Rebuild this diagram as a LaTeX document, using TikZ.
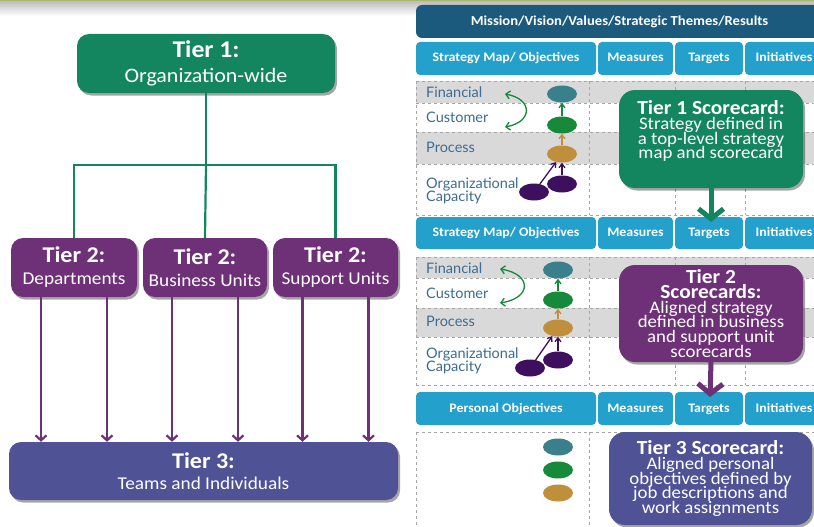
\documentclass[tikz,border=0pt]{standalone}
\usepackage{fontspec}
\setmainfont[FakeStretch=1.07]{Carlito}
\newfontfamily\lblfont{Lato}
\usetikzlibrary{arrows.meta,shapes.geometric,shadows,calc}
\definecolor{tgreen}{HTML}{138660}
\definecolor{tpurple}{HTML}{6E3177}
\definecolor{tblue}{HTML}{4F5396}
\definecolor{hdark}{HTML}{1C5A7D}
\definecolor{hlight}{HTML}{24A0CD}
\definecolor{rowgray}{HTML}{D9D9D9}
\definecolor{gridgray}{HTML}{A6A6A6}
\definecolor{lbltext}{HTML}{3D6C92}
\definecolor{eteal}{HTML}{3A808C}
\definecolor{egreen}{HTML}{168A3A}
\definecolor{egold}{HTML}{C08F3B}
\definecolor{epurple}{HTML}{3E0F5E}
\definecolor{topline}{HTML}{A9B86A}
\newcommand\cttl{\bfseries\fontsize{20}{14.8}\selectfont}
\newcommand\cbdy{\fontsize{17.6}{14.8}\selectfont\lineskiplimit=-50pt\relax}
\newcommand\lblf{\lblfont\fontsize{14.5}{13}\selectfont\lineskiplimit=-50pt\relax}
\newcommand\oneT{\fontsize{20.5}{25}\selectfont\lineskiplimit=-50pt\relax}
\newcommand\twoT{\fontsize{18}{22}\selectfont\lineskiplimit=-50pt\relax}
\newcommand\thrT{\fontsize{18}{21}\selectfont\lineskiplimit=-50pt\relax}
\begin{document}
\begin{tikzpicture}[x=1pt,y=-1pt,
  tbox/.style={rounded corners=12pt, text=white, align=center, inner sep=0pt,
    drop shadow={shadow xshift=2pt,shadow yshift=-2.5pt,opacity=0.35,fill=black}},
  callout/.style={rounded corners=16pt, text=white, align=center, inner sep=0pt, font=\cbdy,
    drop shadow={shadow xshift=2pt,shadow yshift=-2.5pt,opacity=0.35,fill=black}},
  hdr/.style={fill=hlight, rounded corners=4pt, text=white, inner sep=0pt,
    text height=9.5pt, text depth=2.5pt, font=\bfseries\fontsize{13}{15}\selectfont},
  lbl/.style={anchor=west, text=lbltext, inner sep=0pt, align=left, font=\lblf},
  ell/.style={ellipse, minimum width=30pt, minimum height=17pt, inner sep=0pt},
  conn/.style={draw=tgreen, line width=2.2pt},
  parrow/.style={draw=tpurple, line width=2.2pt, -{Straight Barb[length=5pt,width=11pt]}},
  small/.style={line width=1.3pt, -{Straight Barb[length=4pt,width=6pt]}},
  bigarrow/.style={line width=5pt, -{Straight Barb[length=10pt,width=25pt]}},
  grid/.style={draw=gridgray, dashed, line width=0.6pt}
]
\useasboundingbox (0,0) rectangle (814,527);
\clip (0,0) rectangle (814,527);
% top strip
\shade[top color=black!25, bottom color=white] (0,1.5) rectangle (814,16);
\fill[topline] (0,0) rectangle (814,1.5);

% ---------------- left hierarchy ----------------
\node[tbox, fill=tgreen, minimum width=258pt, minimum height=59pt, font=\oneT] (t1) at (206,63.5)
  {{\bfseries\fontsize{24}{25}\selectfont Tier 1:}\\ Organization-wide};
\node[tbox, fill=tpurple, minimum width=126pt, minimum height=59pt, font=\twoT] (t2a) at (74,267.5)
  {{\bfseries\fontsize{22.5}{22}\selectfont Tier 2:}\\ Departments};
\node[tbox, fill=tpurple, minimum width=124pt, minimum height=59pt, font=\twoT] (t2b) at (205,267.5)
  {{\bfseries\fontsize{22.5}{22}\selectfont Tier 2:}\\ Business Units};
\node[tbox, fill=tpurple, minimum width=125pt, minimum height=59pt, font=\twoT] (t2c) at (335.5,267.5)
  {{\bfseries\fontsize{22.5}{22}\selectfont Tier 2:}\\ Support Units};
\node[tbox, fill=tblue, minimum width=389pt, minimum height=58pt, font=\thrT] (t3) at (203.5,471)
  {{\bfseries\fontsize{22.5}{21}\selectfont Tier 3:}\\ Teams and Individuals};

\coordinate (bus) at (206,165);
\draw[conn] (t1.south) -- (bus);
\draw[conn] (t2a.north) |- (bus) -| (t2c.north);
\draw[conn] (bus) -- (t2b.north);

\foreach \n in {t2a,t2b,t2c}{
  \draw[parrow] ([xshift=-33pt]\n.south) -- ([xshift=-33pt]\n.south |- t3.north);
  \draw[parrow] ([xshift=33pt]\n.south) -- ([xshift=33pt]\n.south |- t3.north);
}

% ---------------- right scorecards ----------------
\node[fill=hdark, rounded corners=6pt, text=white, inner sep=0pt,
  minimum width=407pt, minimum height=33pt,
  font=\bfseries\fontsize{13.7}{16}\selectfont] (mission) at (619.5,21.5)
  {Mission/Vision/Values/Strategic Themes/Results};

\node[hdr, minimum width=180pt, minimum height=33pt] (h1a) at (506,58.5) {Strategy Map/ Objectives};
\node[hdr, minimum width=75pt, minimum height=33pt] (h1b) at (635.5,58.5) {Measures};
\node[hdr, minimum width=68pt, minimum height=33pt] (h1c) at (709,58.5) {Targets};
\node[hdr, minimum width=78pt, minimum height=33pt] (h1d) at (784,58.5) {Initiatives};

\node[hdr, minimum width=180pt, minimum height=32pt] (h2a) at (506,233) {Strategy Map/ Objectives};
\node[hdr, minimum width=75pt, minimum height=32pt] (h2b) at (635.5,233) {Measures};
\node[hdr, minimum width=68pt, minimum height=32pt] (h2c) at (709,233) {Targets};
\node[hdr, minimum width=78pt, minimum height=32pt] (h2d) at (784,233) {Initiatives};

\node[hdr, minimum width=180pt, minimum height=33pt] (h3a) at (506,408.5) {Personal Objectives};
\node[hdr, minimum width=75pt, minimum height=33pt] (h3b) at (635.5,408.5) {Measures};
\node[hdr, minimum width=68pt, minimum height=33pt] (h3c) at (709,408.5) {Targets};
\node[hdr, minimum width=78pt, minimum height=33pt] (h3d) at (784,408.5) {Initiatives};

% grid tier 1
\fill[rowgray] (416,81) rectangle (823,103);
\fill[rowgray] (416,132) rectangle (823,164);
\foreach \y in {81,103,132,164,215} \draw[grid] (416,\y) -- (823,\y);
\foreach \x in {416,589,675,745} \draw[grid] (\x,81) -- (\x,215);
% grid tier 2
\fill[rowgray] (416,257) rectangle (823,278);
\fill[rowgray] (416,308) rectangle (823,337);
\foreach \y in {257,278,308,337,385} \draw[grid] (416,\y) -- (823,\y);
\foreach \x in {416,589,675,745} \draw[grid] (\x,257) -- (\x,385);
% grid tier 3
\draw[grid] (416,432) -- (823,432);
\foreach \x in {416,589,675,745} \draw[grid] (\x,432) -- (\x,527);

% labels tier 1
\node[lbl] (l1f) at (426,92) {Financial};
\node[lbl] (l1c) at (426,117) {Customer};
\node[lbl] (l1p) at (426,147) {Process};
\node[lbl] (l1o) at (426,190.5) {Organizational\\Capacity};
% labels tier 2
\node[lbl] (l2f) at (426,268) {Financial};
\node[lbl] (l2c) at (426,293) {Customer};
\node[lbl] (l2p) at (426,321) {Process};
\node[lbl] (l2o) at (426,360.5) {Organizational\\Capacity};

% ellipses tier 1
\node[ell, fill=eteal] (f1) at (562,94) {};
\node[ell, fill=egreen] (c1) at (562,125) {};
\node[ell, fill=egold] (p1) at (562,154) {};
\node[ell, fill=epurple] (o1b) at (562,184) {};
\node[ell, fill=epurple] (o1a) at (534,192) {};
\draw[small, egreen] (c1) -- (f1);
\draw[small, egold] (p1) -- (c1);
\draw[small, epurple] (o1b) -- (p1);
\draw[small, epurple] (o1a) -- (p1);
\coordinate (cf1) at (505,94);
\coordinate (cc1) at (505,127);
\draw[line width=1.3pt, egreen, {Straight Barb[length=4pt,width=8pt]}-{Straight Barb[length=4pt,width=8pt]}]
  (cf1) .. controls (533,99) and (533,122) .. (cc1);

% ellipses tier 2
\node[ell, fill=eteal] (f2) at (558,270) {};
\node[ell, fill=egreen] (c2) at (558,300) {};
\node[ell, fill=egold] (p2) at (558,328) {};
\node[ell, fill=epurple] (o2b) at (558,360) {};
\node[ell, fill=epurple] (o2a) at (530,368) {};
\draw[small, egreen] (c2) -- (f2);
\draw[small, egold] (p2) -- (c2);
\draw[small, epurple] (o2b) -- (p2);
\draw[small, epurple] (o2a) -- (p2);
\coordinate (cf2) at (500,269);
\coordinate (cc2) at (500,303);
\draw[line width=1.3pt, egreen, {Straight Barb[length=4pt,width=8pt]}-{Straight Barb[length=4pt,width=8pt]}]
  (cf2) .. controls (532,274) and (532,298) .. (cc2);

% ellipses tier 3
\node[ell, fill=eteal] (f3) at (558,447) {};
\node[ell, fill=egreen] (c3) at (558,470) {};
\node[ell, fill=egold] (p3) at (558,493) {};

% callouts
\node[callout, fill=tgreen, minimum width=184pt, minimum height=98pt] (co1) at (711,139)
  {{\cttl Tier 1 Scorecard:}\\ Strategy defined in\\ a top-level strategy\\ map and scorecard\\[4pt]};
\node[callout, fill=tpurple, minimum width=184pt, minimum height=97pt] (co2) at (711,313.5)
  {{\cttl Tier 2}\\ {\cttl Scorecards:}\\ Aligned strategy\\ defined in business\\ and support unit\\ scorecards};
\node[callout, fill=tblue, minimum width=203pt, minimum height=93pt] (co3) at (710.5,478.5)
  {{\cttl Tier 3 Scorecard:}\\ Aligned personal\\ objectives defined by\\ job descriptions and\\ work assignments};

\coordinate (a1) at (711,222);
\coordinate (a2) at (710,397);
\draw[bigarrow, tgreen] (co1.south) -- (a1);
\draw[bigarrow, tpurple] (co2.south) -- (a2);
\end{tikzpicture}
\end{document}
